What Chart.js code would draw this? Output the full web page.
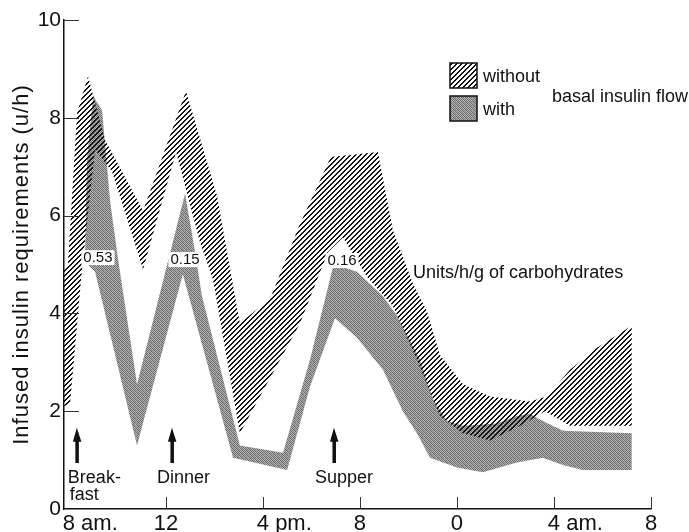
<!DOCTYPE html>
<html>
<head>
<meta charset="utf-8">
<title>Infused insulin requirements</title>
<script src="https://cdn.jsdelivr.net/npm/chart.js"></script>
<style>
  body { margin: 0; padding: 0; background: #fff; overflow: hidden; }
  .container { width: 689px; height: 532px; }
</style>
</head>
<body>
<div class="container"><canvas id="insulinChart" width="689" height="532"></canvas></div>
<script>
// hours of the day (8 = 8 am., 24 = midnight, 32 = 8 am. next day), values in u/h
const withoutUpperHours  = [7.8, 7.96, 8.34, 8.79, 9.49, 11.06, 12.83, 14.11, 15.05, 16.3, 17.5, 18.8, 20.74, 21.36, 22.19, 22.76, 23.3, 24.25, 25.36, 27.01, 27.71, 28.66, 29.77, 31.21];
const withoutUpperValues = [4.9, 5.0, 8.1, 8.85, 7.55, 6.1, 8.55, 6.4, 3.8, 4.3, 5.8, 7.2, 7.3, 5.7, 4.6, 4.05, 3.15, 2.55, 2.3, 2.2, 2.3, 2.85, 3.3, 3.75];
const withoutLowerHours  = [7.8, 8.05, 8.54, 9.08, 9.78, 11.06, 12.42, 13.41, 13.94, 15.05, 17.53, 18.68, 19.3, 20.29, 21.36, 22.35, 23.3, 24.25, 25.36, 26.6, 27.63, 28.66, 31.21];
const withoutLowerValues = [2.1, 2.15, 4.9, 7.35, 6.9, 4.9, 7.3, 5.45, 4.7, 1.55, 3.8, 5.25, 5.55, 4.75, 4.15, 3.05, 1.9, 1.55, 1.4, 1.7, 2.0, 1.7, 1.7];

const withUpperHours  = [8.67, 8.75, 9.0, 9.37, 9.7, 10.03, 10.81, 12.79, 13.12, 13.49, 15.05, 16.83, 17.94, 18.89, 19.3, 19.88, 20.41, 20.95, 21.53, 22.06, 22.47, 23.01, 23.59, 24.25, 25.65, 26.47, 27.01, 27.54, 28.37, 31.21];
const withUpperValues = [5.2, 7.15, 8.45, 8.15, 6.3, 5.1, 2.55, 6.45, 5.5, 4.35, 1.3, 1.15, 3.05, 4.95, 4.95, 4.85, 4.6, 4.35, 3.95, 3.45, 3.05, 2.25, 1.8, 1.7, 1.75, 1.9, 1.95, 1.8, 1.6, 1.55];
const withLowerHours  = [8.67, 9.08, 10.81, 12.7, 14.77, 17.0, 17.94, 18.97, 19.88, 20.95, 21.77, 22.35, 22.89, 24.0, 25.07, 26.47, 27.54, 28.37, 29.19, 31.21];
const withLowerValues = [5.05, 4.85, 1.3, 4.8, 1.05, 0.8, 2.5, 3.9, 3.5, 2.85, 2.0, 1.55, 1.05, 0.85, 0.75, 0.95, 1.05, 0.9, 0.8, 0.8];

// axis ticks
const xTickHours   = [8, 12, 16, 20, 24, 28, 32];
const xTickNumbers = ["8", "12", "4", "8", "0", "4", "8"];
const xTickSuffix  = [" am.", "", " pm.", "", "", " am.", ""];
const yTickValues  = [0, 2, 4, 6, 8, 10];

// meals and carbohydrate ratios
const mealHours  = [8.33, 12.25, 18.93];
const mealNames  = [["Break-", "fast"], ["Dinner"], ["Supper"]];
const ratioHours  = [9.2, 12.79, 19.26];
const ratioValues = [5.13, 5.09, 5.07];
const ratioLabels = ["0.53", "0.15", "0.16"];

const FONT = "'Liberation Sans', 'DejaVu Sans', Arial, sans-serif";
const ctx = document.getElementById("insulinChart").getContext("2d");

// diagonal hatching for "without"
function makeHatch() {
  const c = document.createElement("canvas");
  c.width = 5; c.height = 5;
  const g = c.getContext("2d");
  g.fillStyle = "#111";
  for (let i = 0; i < 5; i++) {
    g.fillRect(i, 4 - i, 1, 1);
    g.fillRect((i + 1) % 5, 4 - i, 1, 1);
  }
  return ctx.createPattern(c, "repeat");
}
// grey stipple for "with"
function makeStipple() {
  const tone = [[105, 170, 125, 185], [190, 95, 160, 120], [135, 175, 100, 165], [170, 120, 190, 105]];
  const c = document.createElement("canvas");
  c.width = 4; c.height = 4;
  const g = c.getContext("2d");
  tone.forEach((row, y) => row.forEach((v, x) => {
    g.fillStyle = `rgb(${v},${v},${v})`;
    g.fillRect(x, y, 1, 1);
  }));
  return ctx.createPattern(c, "repeat");
}
const hatch = makeHatch();
const stipple = makeStipple();

const toPoints = (xs, ys) => xs.map((x, i) => ({ x: x, y: ys[i] }));

const extras = {
  id: "extras",
  afterDraw(chart) {
    const c = chart.ctx;
    const x = chart.scales.x, y = chart.scales.y;
    const area = chart.chartArea;
    c.save();
    c.fillStyle = "#111";
    c.strokeStyle = "#333";

    // y title
    c.save();
    c.translate(22, (area.top + area.bottom) / 2);
    c.rotate(-Math.PI / 2);
    c.font = "22px " + FONT;
    c.letterSpacing = "1px";
    c.textAlign = "center";
    c.textBaseline = "middle";
    c.fillText("Infused insulin requirements (u/h)", 0, 0);
    c.restore();

    // inward tick marks
    c.lineWidth = 1;
    yTickValues.filter(v => v > 0).forEach(v => {
      const py = Math.round(y.getPixelForValue(v)) + 0.5;
      c.beginPath(); c.moveTo(area.left, py); c.lineTo(area.left + 15, py); c.stroke();
    });
    xTickHours.slice(1).forEach(h => {
      const px = Math.round(x.getPixelForValue(h)) + 0.5;
      c.beginPath(); c.moveTo(px, area.bottom); c.lineTo(px, area.bottom - 12); c.stroke();
    });

    // x tick labels: number centred on the tick, suffix after it
    c.font = "22px " + FONT;
    c.textBaseline = "alphabetic";
    xTickHours.forEach((h, i) => {
      const px = x.getPixelForValue(h);
      const w = c.measureText(xTickNumbers[i]).width;
      c.textAlign = "left";
      c.fillText(xTickNumbers[i] + xTickSuffix[i], px - w / 2, area.bottom + 21);
    });

    // meal arrows and names
    const offsets = [-9, -15, -19];
    mealHours.forEach((h, i) => {
      const px = x.getPixelForValue(h);
      const tip = y.getPixelForValue(1.66), base = y.getPixelForValue(0.94);
      c.fillRect(px - 1.5, tip + 12, 3.5, base - tip - 12);
      c.beginPath();
      c.moveTo(px, tip); c.lineTo(px + 4.5, tip + 14); c.lineTo(px - 4, tip + 14); c.closePath();
      c.fill();
      c.font = "18px " + FONT;
      c.textAlign = "left";
      mealNames[i].forEach((line, j) => {
        c.fillText(line, px + offsets[i] + (j ? 2 : 0), y.getPixelForValue(0.53) + j * 17);
      });
    });

    // carbohydrate ratio labels
    c.font = "15px " + FONT;
    c.textAlign = "center";
    c.textBaseline = "middle";
    ratioLabels.forEach((t, i) => {
      const px = x.getPixelForValue(ratioHours[i]), py = y.getPixelForValue(ratioValues[i]);
      const w = c.measureText(t).width;
      c.fillStyle = "#fff";
      c.fillRect(px - w / 2 - 2, py - 8, w + 4, 15);
      c.fillStyle = "#111";
      c.fillText(t, px, py);
    });

    c.font = "18px " + FONT;
    c.textAlign = "left";
    c.textBaseline = "alphabetic";
    c.fillText("Units/h/g of carbohydrates", x.getPixelForValue(22.19), y.getPixelForValue(4.72));

    // legend
    c.lineWidth = 1.5;
    c.strokeStyle = "#111";
    [[hatch, "without", 63], [stipple, "with", 96]].forEach(([pat, label, top]) => {
      c.fillStyle = pat;
      c.fillRect(450, top, 27, 25);
      c.strokeRect(450, top, 27, 25);
      c.fillStyle = "#111";
      c.fillText(label, 483, top + 19);
    });
    c.fillText("basal insulin flow", 552, 102);
    c.restore();
  }
};

new Chart(ctx, {
  type: "line",
  data: {
    datasets: [
      { label: "without (lower)", data: toPoints(withoutLowerHours, withoutLowerValues), fill: false },
      { label: "without basal insulin flow", data: toPoints(withoutUpperHours, withoutUpperValues), fill: "-1", backgroundColor: hatch },
      { label: "with (lower)", data: toPoints(withLowerHours, withLowerValues), fill: false },
      { label: "with basal insulin flow", data: toPoints(withUpperHours, withUpperValues), fill: "-1", backgroundColor: stipple }
    ]
  },
  options: {
    responsive: false,
    animation: false,
    elements: {
      point: { radius: 0 },
      line: { borderWidth: 0, tension: 0 }
    },
    layout: { padding: { top: 20, right: 38, bottom: 23, left: 0 } },
    plugins: { legend: { display: false }, tooltip: { enabled: false } },
    scales: {
      x: {
        type: "linear",
        min: 7.8,
        max: 32,
        afterBuildTicks: (s) => { s.ticks = xTickHours.map(v => ({ value: v })); },
        ticks: { display: false },
        grid: { display: false, drawTicks: false },
        border: { color: "#111", width: 1.5 }
      },
      y: {
        min: 0,
        max: 10,
        afterBuildTicks: (s) => { s.ticks = yTickValues.map(v => ({ value: v })); },
        afterFit: (s) => { s.width = 64; },
        ticks: { color: "#111", padding: 3, font: { family: FONT, size: 21 } },
        grid: { display: false, drawTicks: false },
        border: { color: "#111", width: 1.5 }
      }
    }
  },
  plugins: [extras]
});
</script>
</body>
</html>
